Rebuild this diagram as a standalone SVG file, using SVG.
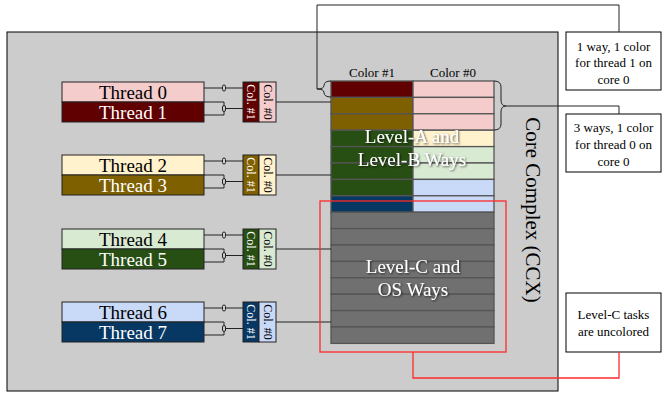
<svg xmlns="http://www.w3.org/2000/svg" width="668" height="394" viewBox="0 0 668 394">
<defs>
<style>
text{font-family:"Liberation Serif","Times New Roman",serif}
.thr{font-size:19px;text-anchor:middle}
.col{font-size:12px;text-anchor:middle}
.lbl{font-size:13px;text-anchor:middle;fill:#000}
.big{font-size:19px;text-anchor:middle;fill:#fff;filter:url(#sh)}
.cell{stroke:#555;stroke-width:1.3}
.tb{stroke:#222;stroke-width:1}
.ln{fill:none;stroke:#222;stroke-width:1}
.box{fill:#fff;stroke:#000;stroke-width:1}
.dot{fill:#ccc;stroke:#222;stroke-width:1}
</style>
<filter id="sh" x="-20%" y="-40%" width="140%" height="180%">
<feDropShadow dx="1" dy="1" stdDeviation="1" flood-color="#000" flood-opacity="0.7"/>
</filter>
</defs>
<rect width="668" height="394" fill="#fff"/>
<g id="ccx">
<rect x="7" y="32" width="551" height="359" fill="#cccccc" stroke="#000" stroke-width="1"/>
<text transform="translate(526,210) rotate(90)" style="font-size:21px;text-anchor:middle">Core Complex (CCX)</text>
</g>
<g id="cache">
<text class="lbl" x="372" y="77">Color #1</text>
<text class="lbl" x="453" y="77">Color #0</text>
<rect class="cell" x="331" y="81" width="82" height="16.4" fill="#600000"/>
<rect class="cell" x="413" y="81" width="81" height="16.4" fill="#f4cccc"/>
<rect class="cell" x="331" y="97.4" width="82" height="16.4" fill="#7f6000"/>
<rect class="cell" x="413" y="97.4" width="81" height="16.4" fill="#f4cccc"/>
<rect class="cell" x="331" y="113.8" width="82" height="16.4" fill="#7f6000"/>
<rect class="cell" x="413" y="113.8" width="81" height="16.4" fill="#f4cccc"/>
<rect class="cell" x="331" y="130.2" width="82" height="16.4" fill="#274e13"/>
<rect class="cell" x="413" y="130.2" width="81" height="16.4" fill="#fff2cc"/>
<rect class="cell" x="331" y="146.6" width="82" height="16.4" fill="#274e13"/>
<rect class="cell" x="413" y="146.6" width="81" height="16.4" fill="#d9ead3"/>
<rect class="cell" x="331" y="163" width="82" height="16.4" fill="#274e13"/>
<rect class="cell" x="413" y="163" width="81" height="16.4" fill="#d9ead3"/>
<rect class="cell" x="331" y="179.4" width="82" height="16.4" fill="#274e13"/>
<rect class="cell" x="413" y="179.4" width="81" height="16.4" fill="#c9daf8"/>
<rect class="cell" x="331" y="195.8" width="82" height="16.4" fill="#073763"/>
<rect class="cell" x="413" y="195.8" width="81" height="16.4" fill="#c9daf8"/>
<rect class="cell" x="331" y="212.2" width="163" height="16.4" fill="#707070"/>
<rect class="cell" x="331" y="228.6" width="163" height="16.4" fill="#707070"/>
<rect class="cell" x="331" y="245" width="163" height="16.4" fill="#707070"/>
<rect class="cell" x="331" y="261.4" width="163" height="16.4" fill="#707070"/>
<rect class="cell" x="331" y="277.8" width="163" height="16.4" fill="#707070"/>
<rect class="cell" x="331" y="294.2" width="163" height="16.4" fill="#707070"/>
<rect class="cell" x="331" y="310.6" width="163" height="16.4" fill="#707070"/>
<rect class="cell" x="331" y="327" width="163" height="16.4" fill="#707070"/>
<text class="big" x="412" y="143">Level-A and</text>
<text class="big" x="412" y="166">Level-B Ways</text>
<text class="big" x="413" y="273">Level-C and</text>
<text class="big" x="413" y="296">OS Ways</text>
</g>
<g id="t01">
<rect class="tb" x="62" y="82" width="142" height="20" fill="#f4cccc"/>
<rect class="tb" x="62" y="102" width="142" height="20" fill="#600000"/>
<text class="thr" x="133" y="99" fill="#000">Thread 0</text>
<text class="thr" x="133" y="119" fill="#fff">Thread 1</text>
</g>
<g id="c01">
<rect class="tb" x="243" y="82" width="16" height="40" fill="#600000"/>
<rect class="tb" x="259" y="82" width="17" height="40" fill="#f4cccc"/>
<text class="col" transform="translate(247,102) rotate(90)" fill="#fff">Col. #1</text>
<text class="col" transform="translate(263.5,102) rotate(90)" fill="#000">Col. #0</text>
</g>
<g id="t23">
<rect class="tb" x="62" y="155" width="142" height="20" fill="#fff2cc"/>
<rect class="tb" x="62" y="175" width="142" height="20" fill="#7f6000"/>
<text class="thr" x="133" y="172" fill="#000">Thread 2</text>
<text class="thr" x="133" y="192" fill="#fff">Thread 3</text>
</g>
<g id="c23">
<rect class="tb" x="243" y="155" width="16" height="40" fill="#7f6000"/>
<rect class="tb" x="259" y="155" width="17" height="40" fill="#fff2cc"/>
<text class="col" transform="translate(247,175) rotate(90)" fill="#fff">Col. #1</text>
<text class="col" transform="translate(263.5,175) rotate(90)" fill="#000">Col. #0</text>
</g>
<g id="t45">
<rect class="tb" x="62" y="229" width="142" height="20" fill="#d9ead3"/>
<rect class="tb" x="62" y="249" width="142" height="20" fill="#274e13"/>
<text class="thr" x="133" y="246" fill="#000">Thread 4</text>
<text class="thr" x="133" y="266" fill="#fff">Thread 5</text>
</g>
<g id="c45">
<rect class="tb" x="243" y="229" width="16" height="40" fill="#274e13"/>
<rect class="tb" x="259" y="229" width="17" height="40" fill="#d9ead3"/>
<text class="col" transform="translate(247,249) rotate(90)" fill="#fff">Col. #1</text>
<text class="col" transform="translate(263.5,249) rotate(90)" fill="#000">Col. #0</text>
</g>
<g id="t67">
<rect class="tb" x="62" y="302" width="142" height="20" fill="#c9daf8"/>
<rect class="tb" x="62" y="322" width="142" height="20" fill="#073763"/>
<text class="thr" x="133" y="319" fill="#000">Thread 6</text>
<text class="thr" x="133" y="339" fill="#fff">Thread 7</text>
</g>
<g id="c67">
<rect class="tb" x="243" y="302" width="16" height="40" fill="#073763"/>
<rect class="tb" x="259" y="302" width="17" height="40" fill="#c9daf8"/>
<text class="col" transform="translate(247,322) rotate(90)" fill="#fff">Col. #1</text>
<text class="col" transform="translate(263.5,322) rotate(90)" fill="#000">Col. #0</text>
</g>
<g id="note1">
<rect class="box" x="566" y="32" width="95" height="58"/>
<text class="lbl" x="613.5" y="51">1 way, 1 color</text>
<text class="lbl" x="613.5" y="67">for thread 1 on</text>
<text class="lbl" x="613.5" y="84">core 0</text>
</g>
<g id="note2">
<rect class="box" x="566" y="114" width="95" height="58"/>
<text class="lbl" x="613.5" y="132">3 ways, 1 color</text>
<text class="lbl" x="613.5" y="149">for thread 0 on</text>
<text class="lbl" x="613.5" y="166">core 0</text>
</g>
<g id="note3">
<rect class="box" x="566" y="293" width="95" height="59"/>
<text class="lbl" x="613.5" y="319">Level-C tasks</text>
<text class="lbl" x="613.5" y="336">are uncolored</text>
</g>
<g id="connectors">
<g id="conn-threads">
<path class="ln" d="M204,88H243M204,102H224V115H204M224,108.5H243"/>
<path class="ln" d="M204,161H243M204,175H224V188H204M224,181.5H243"/>
<path class="ln" d="M204,235H243M204,249H224V262H204M224,255.5H243"/>
<path class="ln" d="M204,308H243M204,322H224V335H204M224,328.5H243"/>
<rect class="dot" x="222.5" y="85" width="3" height="6" rx="1.5"/>
<rect class="dot" x="222.5" y="105.5" width="3" height="6" rx="1.5"/>
<rect class="dot" x="222.5" y="158" width="3" height="6" rx="1.5"/>
<rect class="dot" x="222.5" y="178.5" width="3" height="6" rx="1.5"/>
<rect class="dot" x="222.5" y="232" width="3" height="6" rx="1.5"/>
<rect class="dot" x="222.5" y="252.5" width="3" height="6" rx="1.5"/>
<rect class="dot" x="222.5" y="305" width="3" height="6" rx="1.5"/>
<rect class="dot" x="222.5" y="325.5" width="3" height="6" rx="1.5"/>
</g>
<path class="ln" d="M276,102H331M276,175H331M276,249H331M276,322H331"/>
<path class="ln" d="M331,81Q324,81 324,85.5Q324,89 317,89Q324,89 324,92.5Q324,97 331,97"/>
<path class="ln" d="M317,89V5H619V32"/>
<path class="ln" d="M494,81Q501,81 501,87V100Q501,106 506,106Q501,106 501,112V124Q501,130 494,130"/>
<path class="ln" d="M506,106H619V114"/>
<rect x="320" y="201" width="186" height="151" fill="none" stroke="#ff2a2a" stroke-width="1.3"/>
<path d="M413,352V378H619V352" fill="none" stroke="#ff2a2a" stroke-width="1.3"/>
</g>
</svg>
